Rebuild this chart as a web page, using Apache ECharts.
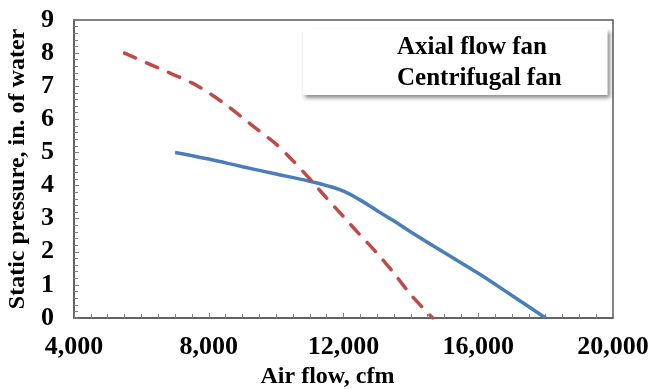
<!DOCTYPE html>
<html><head><meta charset="utf-8">
<script src="https://cdn.jsdelivr.net/npm/echarts@6/dist/echarts.min.js"></script>
<style>html,body{margin:0;padding:0;background:#fff}#c{width:648px;height:389px}</style>
</head><body><div id="c"></div>
<script>
const axialX = [7000, 8000, 9000, 10000, 11000, 11500, 12000, 12500, 13000, 13500, 14000, 15000, 16000, 17000, 18000];
const axialY = [5.0, 4.8, 4.57, 4.35, 4.13, 4.0, 3.83, 3.56, 3.24, 2.93, 2.6, 1.97, 1.35, 0.68, 0];
const centX = [5500, 6500, 7500, 8000, 8500, 9000, 9500, 10000, 10500, 11000, 11500, 12000, 12500, 13000, 13500, 14000, 14650];
const centY = [8.0, 7.55, 7.1, 6.8, 6.45, 6.05, 5.65, 5.25, 4.75, 4.2, 3.62, 3.06, 2.5, 1.95, 1.35, 0.7, 0];
const seriesNames = ['Axial flow fan', 'Centrifugal fan'];
const xTitle = 'Air flow, cfm';
const yTitle = 'Static pressure, in. of water';

const font = 'Liberation Serif';
const chart = echarts.init(document.getElementById('c'), null, {renderer: 'canvas'});
const zip = (a, b) => a.map((v, i) => [v, b[i]]);
chart.setOption({
  animation: false,
  backgroundColor: '#fff',
  grid: {left: 74, right: 35, top: 20, bottom: 71, show: true, borderColor: '#595959', borderWidth: 1.5,
         containLabel: false, outerBoundsMode: 'none'},
  legend: {
    orient: 'vertical', left: 303, top: 29,
    data: seriesNames,
    icon: 'rect', itemWidth: 0, itemHeight: 0, itemGap: 6,
    padding: [6, 46, 4, 89],
    backgroundColor: '#fff',
    shadowBlur: 4, shadowColor: 'rgba(0,0,0,0.45)', shadowOffsetX: 2, shadowOffsetY: 3,
    textStyle: {fontFamily: font, fontWeight: 'bold', fontSize: 25, color: '#000'}
  },
  xAxis: {
    type: 'value', min: 4000, max: 20000, interval: 4000,
    name: xTitle, nameLocation: 'middle', nameGap: 44,
    nameTextStyle: {fontFamily: font, fontWeight: 'bold', fontSize: 24, color: '#000', padding: [0, 32, 0, 0]},
    axisLine: {show: true, lineStyle: {color: '#595959', width: 1.5}},
    axisTick: {show: true, inside: true, length: 5, lineStyle: {color: '#808080'}},
    minorTick: {show: true, splitNumber: 8, length: 4, lineStyle: {color: '#808080'}},
    splitLine: {show: false},
    axisLabel: {fontFamily: font, fontWeight: 'bold', fontSize: 26, color: '#000', margin: 16}
  },
  yAxis: {
    type: 'value', min: 0, max: 9, interval: 1,
    name: yTitle, nameLocation: 'middle', nameGap: 42,
    nameTextStyle: {fontFamily: font, fontWeight: 'bold', fontSize: 24, color: '#000'},
    axisLine: {show: true, lineStyle: {color: '#595959', width: 1.5}},
    axisTick: {show: true, inside: true, length: 5, lineStyle: {color: '#808080'}},
    minorTick: {show: true, splitNumber: 5, length: 4, lineStyle: {color: '#808080'}},
    splitLine: {show: false},
    axisLabel: {fontFamily: font, fontWeight: 'bold', fontSize: 26, color: '#000', margin: 20}
  },
  series: [
    {name: seriesNames[0], type: 'line', data: zip(axialX, axialY), smooth: 0.4, showSymbol: false,
     lineStyle: {color: '#4a7ebb', width: 3.5}, itemStyle: {color: '#4a7ebb'}},
    {name: seriesNames[1], type: 'line', data: zip(centX, centY), smooth: 0.3, showSymbol: false,
     lineStyle: {color: '#be4b48', width: 3.5, type: [12, 12], cap: 'round'}, itemStyle: {color: '#be4b48'}}
  ]
});
</script></body></html>
